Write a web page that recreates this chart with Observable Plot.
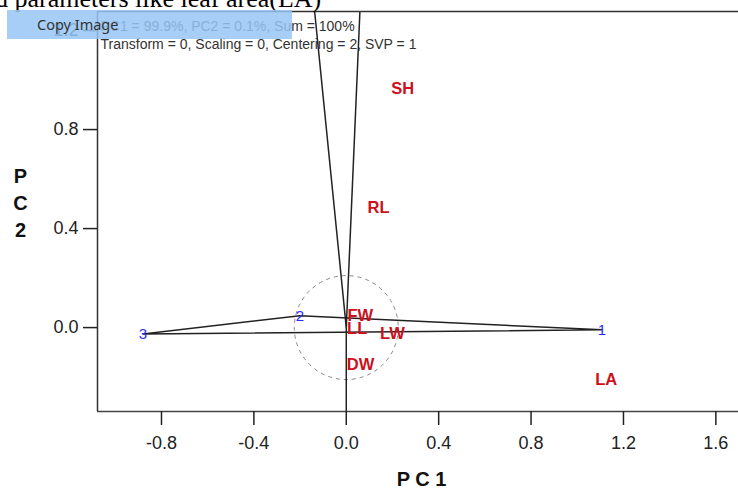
<!DOCTYPE html>
<html><head><meta charset="utf-8">
<script src="https://cdn.jsdelivr.net/npm/d3@7"></script>
<script src="https://cdn.jsdelivr.net/npm/@observablehq/plot@0.6"></script>
<style>
body{margin:0;background:#fff;}
#wrap{position:relative;width:738px;height:489px;overflow:hidden;background:#fff;}
#chart{position:absolute;left:0;top:0;}
#doc{position:absolute;left:-5px;top:-16px;font-family:"Liberation Serif","Times New Roman",serif;font-size:26px;color:#000;white-space:nowrap;}
#copy{position:absolute;left:7px;top:10px;width:285px;height:29px;background:rgba(150,198,245,0.85);}
#copytxt{position:absolute;left:37px;top:15px;font-family:"Noto Sans","Open Sans",sans-serif;font-size:14.5px;color:#333;line-height:19px;}
</style></head>
<body><div id="wrap"><div id="chart"></div><div id="doc">d parameters like leaf area(LA)</div><div id="copy"></div><div id="copytxt">Copy Image</div></div>
<script>
// Genotypes (polygon vertices)
const genotypes = ["1", "2", "3"];
const genoPC1 = [1.107, -0.201, -0.880];
const genoPC2 = [-0.009, 0.048, -0.026];
const polygonOrder = [0, 1, 2, 0];

// Traits (environments)
const traits = ["SH", "RL", "FW", "LL", "LW", "DW", "LA"];
const traitPC1 = [0.244, 0.140, 0.061, 0.047, 0.200, 0.062, 1.125];
const traitPC2 = [0.964, 0.485, 0.048, -0.006, -0.024, -0.150, -0.212];

// Rays from origin perpendicular to polygon sides (end points at plot edge)
const rayEndPC1 = [-0.137, 0.059, 0.0];
const rayEndPC2 = [1.277, 1.277, -0.339];

const xTicks = [-0.8, -0.4, 0.0, 0.4, 0.8, 1.2, 1.6];
const yTicks = [0.0, 0.4, 0.8, 1.2];
const xDomain = [-1.077, 1.698];
const yDomain = [-0.339, 1.277];
const infoLines = ["PC1 = 99.9%, PC2 = 0.1%, Sum = 100%", "Transform = 0, Scaling = 0, Centering = 2, SVP = 1"];
const xTitle = "P C 1";
const yTitle = "P\nC\n2";

const genoTable = genotypes.map((g, i) => ({name: g, pc1: genoPC1[i], pc2: genoPC2[i]}));
const polygon = polygonOrder.map(i => genoTable[i]);
const traitTable = traits.map((t, i) => ({name: t, pc1: traitPC1[i], pc2: traitPC2[i]}));
const rayTable = rayEndPC1.map((v, i) => ({pc1: v, pc2: rayEndPC2[i]}));

const sans = "'Liberation Sans',Arial,sans-serif";
const fmt = d => d.toFixed(1);

const chart = Plot.plot({
  width: 738,
  height: 489,
  marginLeft: 97,
  marginRight: 0,
  marginTop: 11,
  marginBottom: 78,
  style: {fontFamily: sans, fontSize: "18px", background: "white", color: "#222"},
  x: {domain: xDomain, axis: null},
  y: {domain: yDomain, axis: null},
  marks: [
    Plot.dot([{pc1: 0, pc2: 0}], {x: "pc1", y: "pc2", r: 52, stroke: "#888", strokeWidth: 1, strokeDasharray: "4,4", fill: "none"}),
    Plot.link(rayTable, {x1: () => 0, y1: () => 0, x2: "pc1", y2: "pc2", stroke: "#222", strokeWidth: 1.5, clip: true}),
    Plot.line(polygon, {x: "pc1", y: "pc2", stroke: "#222", strokeWidth: 1.5}),
    Plot.text(traitTable, {x: "pc1", y: "pc2", text: "name", fill: "#cc1020", fontSize: 16.5, fontWeight: "bold", fontFamily: sans}),
    Plot.text(genoTable, {x: "pc1", y: "pc2", text: "name", fill: "#2a2aff", fontSize: 15, fontFamily: sans}),
    Plot.ruleY([yDomain[0]], {stroke: "#444", strokeWidth: 1.5}),
    Plot.ruleY([yDomain[1]], {stroke: "#333", strokeWidth: 1.5}),
    Plot.ruleX([xDomain[0]], {stroke: "#333", strokeWidth: 1.5}),
    Plot.axisX(xTicks, {anchor: "bottom", label: null, tickSize: 14, tickPadding: 11, tickFormat: fmt, strokeWidth: 1.5, color: "#222", fontSize: 18}),
    Plot.axisY(yTicks, {anchor: "left", label: null, tickSize: 14, tickPadding: 5, tickFormat: fmt, strokeWidth: 1.5, color: "#222", fontSize: 18}),
    Plot.text([infoLines.join("\n")], {frameAnchor: "top-left", textAnchor: "start", lineAnchor: "top", dx: 3, dy: 7, lineHeight: 1.27, fontSize: 14, fill: "#333", fontFamily: sans}),
    Plot.text([xTitle], {frameAnchor: "bottom", dx: 3.5, dy: 74, fontSize: 20, fontWeight: "bold", fill: "#111", fontFamily: sans}),
    Plot.text([yTitle], {frameAnchor: "left", textAnchor: "middle", dx: -77, dy: -10.5, lineHeight: 1.35, fontSize: 20, fontWeight: "bold", fill: "#111", fontFamily: sans})
  ]
});
document.getElementById("chart").appendChild(chart);
</script>
</body></html>
